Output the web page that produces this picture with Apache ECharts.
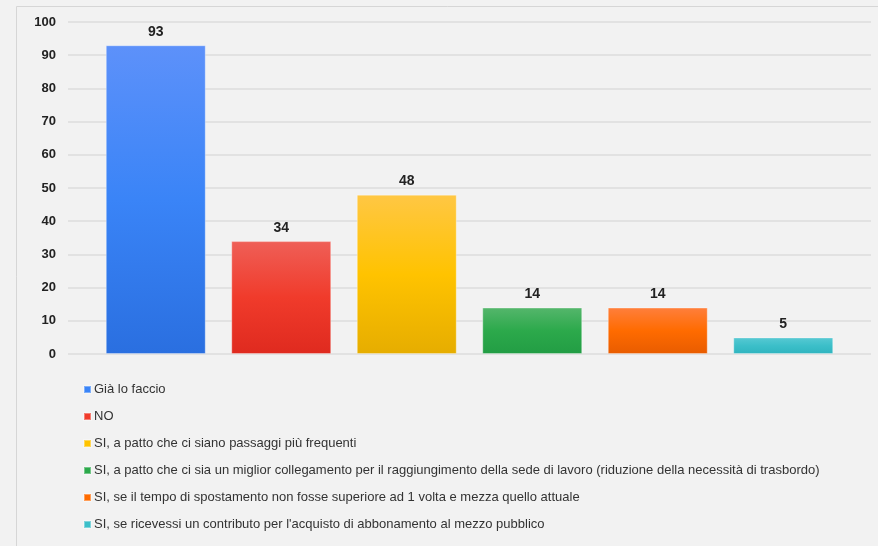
<!DOCTYPE html>
<html>
<head>
<meta charset="utf-8">
<script src="https://cdn.jsdelivr.net/npm/echarts@6/dist/echarts.min.js"></script>
<style>
html,body{margin:0;padding:0;background:#f2f2f2;}
#c{width:878px;height:546px;}
</style>
</head>
<body>
<div id="c"></div>
<script>
var categories = [
  "Già lo faccio",
  "NO",
  "SI, a patto che ci siano passaggi più frequenti",
  "SI, a patto che ci sia un miglior collegamento per il raggiungimento della sede di lavoro (riduzione della necessità di trasbordo)",
  "SI, se il tempo di spostamento non fosse superiore ad 1 volta e mezza quello attuale",
  "SI, se ricevessi un contributo per l'acquisto di abbonamento al mezzo pubblico"
];
var values = [93, 34, 48, 14, 14, 5];
var yTicks = [0, 10, 20, 30, 40, 50, 60, 70, 80, 90, 100];

var gradients = [
  ["#5d91fa", "#3a84f7", "#2a6fe0"],
  ["#ef5f57", "#f03b2b", "#df2a1f"],
  ["#ffc744", "#ffc300", "#e6ad00"],
  ["#55b66c", "#2ca94b", "#229d44"],
  ["#ff7f3c", "#ff6b00", "#e85c00"],
  ["#58c9d3", "#3cbfc9", "#2fb4bf"]
];
var solid = ["#3a84f7", "#f03b2b", "#ffc300", "#2ca94b", "#ff6b00", "#3cbfc9"];

var series = categories.map(function (name, i) {
  var g = gradients[i];
  return {
    name: name,
    type: 'bar',
    xAxisIndex: 1,
    yAxisIndex: 1,
    stack: 'all',
    barWidth: 100,
    data: categories.map(function (c, j) { return j === i ? values[i] : '-'; }),
    itemStyle: {
      color: new echarts.graphic.LinearGradient(0, 0, 0, 1, [
        {offset: 0, color: g[0]}, {offset: 0.5, color: g[1]}, {offset: 1, color: g[2]}
      ]),
      borderColor: 'rgba(255,255,255,0.35)',
      borderWidth: 1
    },
    label: {
      show: true,
      position: 'top',
      distance: 6,
      fontFamily: 'Liberation Sans, Arial, sans-serif',
      fontWeight: 'bold',
      fontSize: 14,
      color: '#222'
    },
    emphasis: {disabled: true}
  };
});

var chart = echarts.init(document.getElementById('c'));
chart.setOption({
  backgroundColor: '#f2f2f2',
  animation: false,
  graphic: [{
    type: 'rect',
    shape: {x: 16.5, y: 6.5, width: 900, height: 600},
    style: {fill: 'none', stroke: '#d6d6d6', lineWidth: 1},
    silent: true
  }],
  grid: [
    {left: 68, right: 7, top: 22, bottom: 192},
    {left: 93, right: 32, top: 22, bottom: 192}
  ],
  xAxis: [
    {type: 'value', gridIndex: 0, show: false, min: 0, max: 1},
    {type: 'category', gridIndex: 1, data: categories, show: false}
  ],
  yAxis: [
    {
      type: 'value', gridIndex: 0, min: yTicks[0], max: yTicks[yTicks.length - 1], interval: 10,
      axisLine: {show: false}, axisTick: {show: false},
      axisLabel: {
        margin: 12, fontFamily: 'Liberation Sans, Arial, sans-serif',
        fontWeight: 'bold', fontSize: 13, color: '#222'
      },
      splitLine: {lineStyle: {color: '#dcdcdc', width: 1.5}}
    },
    {
      type: 'value', gridIndex: 1, min: yTicks[0], max: yTicks[yTicks.length - 1], interval: 10,
      show: false, splitLine: {show: false}
    }
  ],
  legend: {
    orient: 'vertical',
    left: 78,
    top: 378,
    itemWidth: 7,
    itemHeight: 7,
    itemGap: 14,
    icon: 'rect',
    selectedMode: false,
    textStyle: {
      fontFamily: 'Liberation Sans, Arial, sans-serif',
      fontSize: 13,
      color: '#333',
      padding: [0, 0, 0, -2]
    },
    data: categories.map(function (c, i) { return {name: c, itemStyle: {color: solid[i]}}; })
  },
  series: series
});
</script>
</body>
</html>
